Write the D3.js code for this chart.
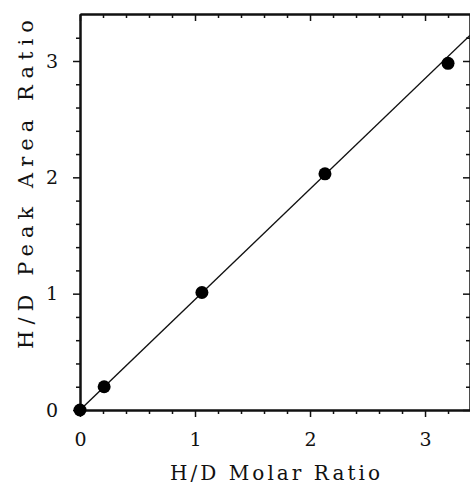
<!DOCTYPE html>
<html>
<head>
<meta charset="utf-8">
<script src="https://cdn.jsdelivr.net/npm/d3@7"></script>
<style>
  html, body { margin: 0; padding: 0; background: #fff; }
  svg { display: block; }
  text { font-family: "DejaVu Serif", "Liberation Serif", serif; fill: #111; }
</style>
</head>
<body>
<script>
// Data
const molarRatio = [0, 0.21, 1.06, 2.13, 3.20];
const peakAreaRatio = [0, 0.20, 1.01, 2.03, 2.98];
const fitX = [0, 3.39];
const fitY = [0, 3.22];
const xTickValues = [0, 1, 2, 3];
const yTickValues = [0, 1, 2, 3];
const xTitle = "H/D Molar Ratio";
const yTitle = "H/D Peak Area Ratio";

const W = 470, H = 486;
const margin = { left: 80, top: 14, right: 0, bottom: 76 };

const svg = d3.select("body").append("svg").attr("width", W).attr("height", H);

const x = d3.scaleLinear().domain([0, 3.391]).range([margin.left, W - margin.right]);
const y = d3.scaleLinear().domain([0, 3.404]).range([H - margin.bottom, margin.top]);

const minorX = d3.range(0, 3.4, 0.2).filter(v => Math.abs(v - Math.round(v)) > 1e-6);
const minorY = d3.range(0, 3.4, 0.2).filter(v => Math.abs(v - Math.round(v)) > 1e-6);

function styleAxis(g) {
  g.select(".domain").attr("stroke", "#111").attr("stroke-width", 2);
  g.selectAll(".tick line").attr("stroke", "#111").attr("stroke-width", 1.5);
  g.selectAll(".tick text").style("font-size", "19px").attr("fill", "#111");
}

// Bottom axis (major + minor, ticks outward)
svg.append("g").attr("transform", `translate(0,${y(0)})`)
  .call(d3.axisBottom(x).tickValues(xTickValues).tickFormat(d3.format("d")).tickSize(7).tickPadding(16).tickSizeOuter(0))
  .call(styleAxis);
svg.append("g").attr("transform", `translate(0,${y(0)})`)
  .call(d3.axisBottom(x).tickValues(minorX).tickFormat("").tickSize(4).tickSizeOuter(0))
  .call(styleAxis);

// Top axis (ticks inward)
svg.append("g").attr("transform", `translate(0,${y.range()[1]})`)
  .call(d3.axisTop(x).tickValues(xTickValues).tickFormat("").tickSize(-7).tickSizeOuter(0))
  .call(styleAxis);
svg.append("g").attr("transform", `translate(0,${y.range()[1]})`)
  .call(d3.axisTop(x).tickValues(minorX).tickFormat("").tickSize(-4).tickSizeOuter(0))
  .call(styleAxis);

// Left axis (ticks outward)
svg.append("g").attr("transform", `translate(${x(0)},0)`)
  .call(d3.axisLeft(y).tickValues(yTickValues).tickFormat(d3.format("d")).tickSize(7).tickPadding(15).tickSizeOuter(0))
  .call(styleAxis);
svg.append("g").attr("transform", `translate(${x(0)},0)`)
  .call(d3.axisLeft(y).tickValues(minorY).tickFormat("").tickSize(4).tickSizeOuter(0))
  .call(styleAxis);

// Right axis (ticks inward; frame line lies at the picture edge)
svg.append("g").attr("transform", `translate(${x.range()[1]},0)`)
  .call(d3.axisRight(y).tickValues(yTickValues).tickFormat("").tickSize(-7).tickSizeOuter(0))
  .call(styleAxis);
svg.append("g").attr("transform", `translate(${x.range()[1]},0)`)
  .call(d3.axisRight(y).tickValues(minorY).tickFormat("").tickSize(-4).tickSizeOuter(0))
  .call(styleAxis);

// Fit line
const fit = fitX.map((v, i) => [v, fitY[i]]);
svg.append("path")
  .datum(fit)
  .attr("fill", "none")
  .attr("stroke", "#111")
  .attr("stroke-width", 1.4)
  .attr("d", d3.line().x(d => x(d[0])).y(d => y(d[1])));

// Points
const pts = molarRatio.map((v, i) => [v, peakAreaRatio[i]]);
svg.append("g").selectAll("circle").data(pts).join("circle")
  .attr("cx", d => x(d[0]))
  .attr("cy", d => y(d[1]))
  .attr("r", 6.5)
  .attr("fill", "#000");

// Titles
svg.append("text")
  .attr("x", 275).attr("y", 480)
  .attr("text-anchor", "middle")
  .style("font-size", "20px")
  .attr("textLength", 210).attr("lengthAdjust", "spacing")
  .text(xTitle);

svg.append("text")
  .attr("transform", "translate(33,184.5) rotate(-90)")
  .attr("text-anchor", "middle")
  .style("font-size", "21px")
  .attr("textLength", 329).attr("lengthAdjust", "spacing")
  .text(yTitle);
</script>
</body>
</html>
